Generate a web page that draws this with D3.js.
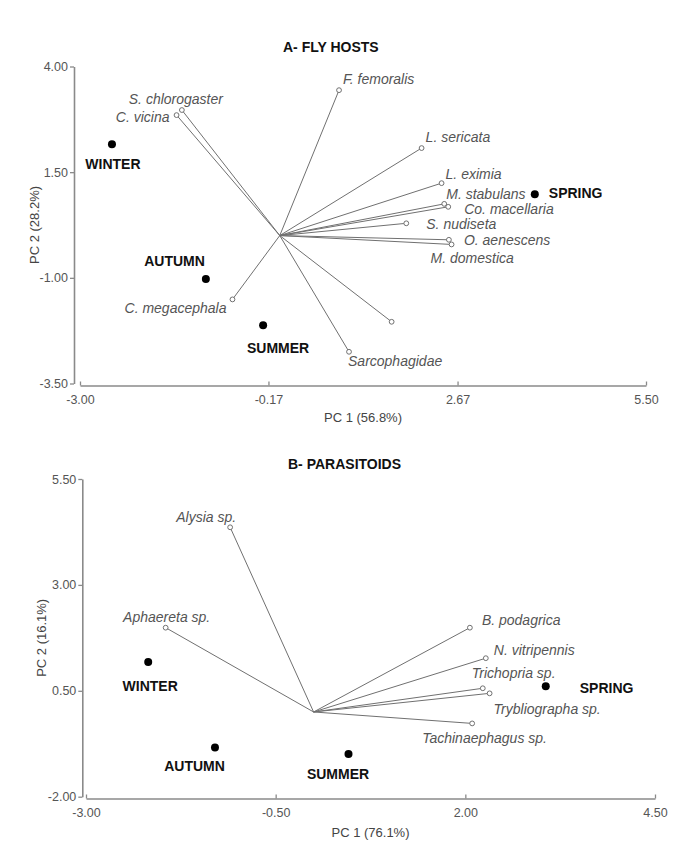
<!DOCTYPE html>
<html>
<head>
<meta charset="utf-8">
<script src="https://cdn.jsdelivr.net/npm/d3@7"></script>
<style>
  html, body { margin: 0; padding: 0; background: #fff; }
  svg { display: block; font-family: "Liberation Sans", Arial, sans-serif; }
</style>
</head>
<body>
<svg id="chart" width="682" height="857"></svg>
<script>
// ---------------- DATA ----------------
// Panel A – fly hosts
const flySpecies = ["S. chlorogaster", "C. vicina", "F. femoralis", "L. sericata", "L. eximia",
  "M. stabulans", "Co. macellaria", "S. nudiseta", "O. aenescens", "M. domestica",
  "C. megacephala", "", "Sarcophagidae"];
const flyPC1 = [-1.47, -1.55, 0.89, 2.13, 2.43, 2.47, 2.53, 1.90, 2.54, 2.58, -0.71, 1.68, 1.04];
const flyPC2 = [2.97, 2.85, 3.44, 2.07, 1.24, 0.75, 0.68, 0.29, -0.10, -0.21, -1.51, -2.04, -2.75];
const flySeasons = ["WINTER", "SPRING", "AUTUMN", "SUMMER"];
const flySeasonPC1 = [-2.52, 3.83, -1.11, -0.25];
const flySeasonPC2 = [2.16, 0.98, -1.03, -2.12];
const flyXTicks = [-3.00, -0.17, 2.67, 5.50];
const flyYTicks = [4.00, 1.50, -1.00, -3.50];

// Panel B – parasitoids
const parSpecies = ["Alysia sp.", "Aphaereta sp.", "B. podagrica", "N. vitripennis",
  "Trichopria sp.", "Trybliographa sp.", "Tachinaephagus sp."];
const parPC1 = [-1.10, -1.95, 2.06, 2.27, 2.23, 2.32, 2.09];
const parPC2 = [4.36, 1.99, 1.99, 1.27, 0.56, 0.44, -0.27];
const parSeasons = ["WINTER", "SPRING", "AUTUMN", "SUMMER"];
const parSeasonPC1 = [-2.18, 3.06, -1.30, 0.46];
const parSeasonPC2 = [1.18, 0.61, -0.84, -0.99];
const parXTicks = [-3.00, -0.50, 2.00, 4.50];
const parYTicks = [5.50, 3.00, 0.50, -2.00];

// ---------------- LAYOUT ----------------
const panels = [
  {
    title: "A- FLY HOSTS", titleX: 283, titleY: 52,
    xTitle: "PC 1 (56.8%)", yTitle: "PC 2 (28.2%)",
    xDomain: [-3, 5.5], xRange: [80, 646],
    yDomain: [4, -3.5], yRange: [66.5, 383.5],
    yAxisX: 74, xAxisY: 385.5, xPad: 10,
    xTitleY: 422, yTitleX: 38.5,
    xTicks: flyXTicks, yTicks: flyYTicks,
    species: flySpecies, sx: flyPC1, sy: flyPC2,
    seasons: flySeasons, tx: flySeasonPC1, ty: flySeasonPC2,
    spLab: {
      "S. chlorogaster": [-6, -5.7, "middle"],
      "C. vicina": [-7, 6.7, "end"],
      "F. femoralis": [4, -6, "start"],
      "L. sericata": [4, -6, "start"],
      "L. eximia": [4, -4, "start"],
      "M. stabulans": [2, -4.7, "start"],
      "Co. macellaria": [16, 7.3, "start"],
      "S. nudiseta": [20, 6, "start"],
      "O. aenescens": [15, 5, "start"],
      "M. domestica": [-21, 18.4, "start"],
      "C. megacephala": [-6, 14, "end"],
      "": [0, 0, "start"],
      "Sarcophagidae": [-1, 14.3, "start"]
    },
    seLab: {
      "WINTER": [1, 25, "middle"],
      "SPRING": [14, 4, "start"],
      "AUTUMN": [-1, -13.5, "end"],
      "SUMMER": [15, 28, "middle"]
    }
  },
  {
    title: "B- PARASITOIDS", titleX: 288, titleY: 469,
    xTitle: "PC 1 (76.1%)", yTitle: "PC 2 (16.1%)",
    xDomain: [-3, 4.5], xRange: [86, 655],
    yDomain: [5.5, -2], yRange: [479, 796.7],
    yAxisX: 82.3, xAxisY: 798.5, xPad: 9.5,
    xTitleY: 836.5, yTitleX: 46,
    xTicks: parXTicks, yTicks: parYTicks,
    species: parSpecies, sx: parPC1, sy: parPC2,
    seasons: parSeasons, tx: parSeasonPC1, ty: parSeasonPC2,
    spLab: {
      "Alysia sp.": [6, -5.6, "end"],
      "Aphaereta sp.": [1, -6, "middle"],
      "B. podagrica": [12, -2.7, "start"],
      "N. vitripennis": [8, -3.3, "start"],
      "Trichopria sp.": [-11, -10, "start"],
      "Trybliographa sp.": [4, 20.7, "start"],
      "Tachinaephagus sp.": [-50, 20, "start"]
    },
    seLab: {
      "WINTER": [2, 29, "middle"],
      "SPRING": [34, 7.3, "start"],
      "AUTUMN": [-20.4, 23.3, "middle"],
      "SUMMER": [-10.5, 25, "middle"]
    }
  }
];

const svg = d3.select("#chart");
svg.append("rect").attr("width", 682).attr("height", 857).attr("fill", "#fff");

const axisColor = "#8a8a8a";
const tickTextColor = "#555";
const labelColor = "#555";
const vecColor = "#707070";
const fmt = d => d.toFixed(2);

panels.forEach(p => {
  const x = d3.scaleLinear().domain(p.xDomain).range(p.xRange);
  const y = d3.scaleLinear().domain(p.yDomain).range(p.yRange);
  const g = svg.append("g");

  // Title
  g.append("text").attr("x", p.titleX).attr("y", p.titleY)
    .attr("font-size", 14).attr("font-weight", "bold").attr("fill", "#111")
    .text(p.title);

  // Y axis
  const yAx = g.append("g").attr("transform", `translate(${p.yAxisX},0)`)
    .call(d3.axisLeft(y).tickValues(p.yTicks).tickSize(4).tickSizeOuter(0).tickPadding(2).tickFormat(fmt));
  // X axis
  const xAx = g.append("g").attr("transform", `translate(0,${p.xAxisY})`)
    .call(d3.axisBottom(x).tickValues(p.xTicks).tickSize(-4).tickSizeOuter(0).tickPadding(p.xPad).tickFormat(fmt));
  [yAx, xAx].forEach(a => {
    a.select(".domain").attr("stroke", axisColor).attr("stroke-width", 1.6);
    a.selectAll(".tick line").attr("stroke", axisColor).attr("stroke-width", 1.3);
    a.selectAll(".tick text").attr("fill", tickTextColor)
      .attr("font-size", 12.5).attr("font-family", "'Liberation Sans', Arial, sans-serif");
  });

  // Axis titles
  g.append("text")
    .attr("x", (p.xRange[0] + p.xRange[1]) / 2).attr("y", p.xTitleY)
    .attr("text-anchor", "middle").attr("font-size", 13).attr("fill", "#444")
    .text(p.xTitle);
  const ym = (p.yRange[0] + p.yRange[1]) / 2;
  g.append("text")
    .attr("transform", `translate(${p.yTitleX},${ym}) rotate(-90)`)
    .attr("text-anchor", "middle").attr("font-size", 13).attr("fill", "#444")
    .text(p.yTitle);

  // Vectors
  const sp = p.species.map((n, i) => ({ name: n, x: p.sx[i], y: p.sy[i] }));
  g.append("g").selectAll("line").data(sp).join("line")
    .attr("x1", x(0)).attr("y1", y(0))
    .attr("x2", d => x(d.x)).attr("y2", d => y(d.y))
    .attr("stroke", vecColor).attr("stroke-width", 1);
  g.append("g").selectAll("circle").data(sp).join("circle")
    .attr("cx", d => x(d.x)).attr("cy", d => y(d.y)).attr("r", 2.4)
    .attr("fill", "#fff").attr("stroke", vecColor).attr("stroke-width", 1);
  g.append("g").selectAll("text").data(sp).join("text")
    .attr("x", d => x(d.x) + p.spLab[d.name][0])
    .attr("y", d => y(d.y) + p.spLab[d.name][1])
    .attr("text-anchor", d => p.spLab[d.name][2])
    .attr("font-size", 14).attr("font-style", "italic").attr("fill", labelColor)
    .text(d => d.name);

  // Seasons
  const se = p.seasons.map((n, i) => ({ name: n, x: p.tx[i], y: p.ty[i] }));
  g.append("g").selectAll("circle").data(se).join("circle")
    .attr("cx", d => x(d.x)).attr("cy", d => y(d.y)).attr("r", 4)
    .attr("fill", "#000");
  g.append("g").selectAll("text").data(se).join("text")
    .attr("x", d => x(d.x) + p.seLab[d.name][0])
    .attr("y", d => y(d.y) + p.seLab[d.name][1])
    .attr("text-anchor", d => p.seLab[d.name][2])
    .attr("font-size", 14).attr("font-weight", "bold").attr("fill", "#111")
    .text(d => d.name);
});
</script>
</body>
</html>
